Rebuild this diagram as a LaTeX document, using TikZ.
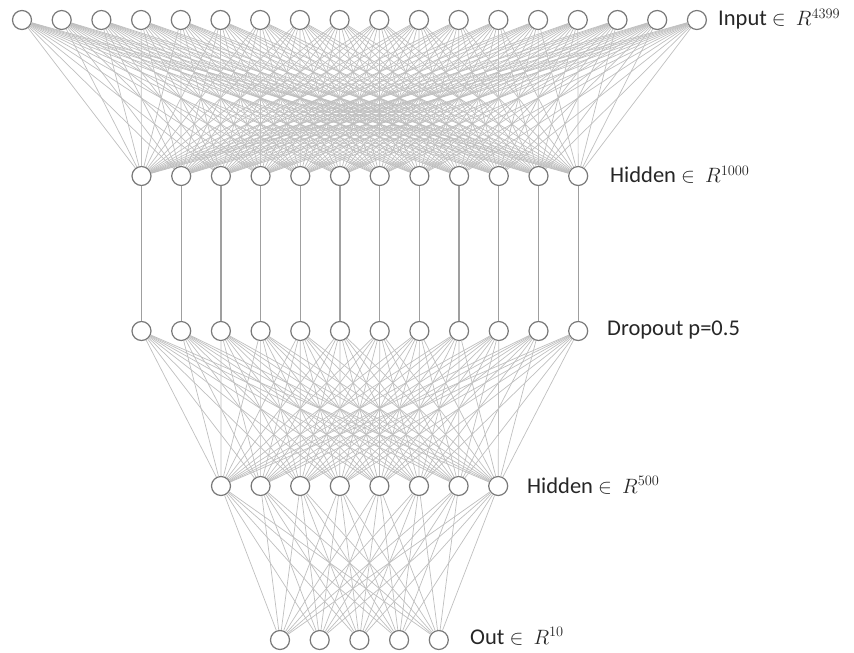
\documentclass[tikz,border=0pt]{standalone}
\usepackage{fontspec}
\setmainfont{Carlito}
\tikzset{
  neuron/.style={circle, draw=gray!95!black, line width=1.2pt, fill=white, minimum size=19pt, inner sep=0pt},
  edge/.style={draw=gray!50, line width=0.7pt},
  vedge/.style={draw=gray!75, line width=1.3pt},
  lbl/.style={anchor=west, inner sep=0pt, font=\fontsize{22.5}{26}\selectfont, text=black!85}
}
\begin{document}
\begin{tikzpicture}[x=1pt,y=-1pt]
\useasboundingbox (0,0) rectangle (854,653);
% nodes
\foreach \i in {1,...,18} \node[neuron] (i\i) at ({22+(\i-1)*39.7},20) {};
\foreach \i in {1,...,12} \node[neuron] (h\i) at ({141.5+(\i-1)*39.7},176) {};
\foreach \i in {1,...,12} \node[neuron] (d\i) at ({141.5+(\i-1)*39.7},331) {};
\foreach \i in {1,...,8} \node[neuron] (k\i) at ({221+(\i-1)*39.6},486) {};
\foreach \i in {1,...,5} \node[neuron] (o\i) at ({280+(\i-1)*39.7},640) {};
% edges
\foreach \a in {1,...,18} \foreach \b in {1,...,12} \draw[edge] (i\a) -- (h\b);
\foreach \a in {1,...,12} \draw[vedge] (h\a) -- (d\a);
\foreach \a in {1,...,12} \foreach \b in {1,...,8} \draw[edge] (d\a) -- (k\b);
\foreach \a in {1,...,8} \foreach \b in {1,...,5} \draw[edge] (k\a) -- (o\b);
% labels
\node[lbl] (l1) at (718,19) {Input $\in$\ \ $R^{4399}$};
\node[lbl] (l2) at (610,175) {Hidden $\in$\ \ $R^{1000}$};
\node[lbl] (l3) at (607,330) {Dropout p=0.5};
\node[lbl] (l4) at (527,485) {Hidden $\in$\ \ $R^{500}$};
\node[lbl] (l5) at (470,636) {Out $\in$\ \ $R^{10}$};
\end{tikzpicture}
\end{document}
